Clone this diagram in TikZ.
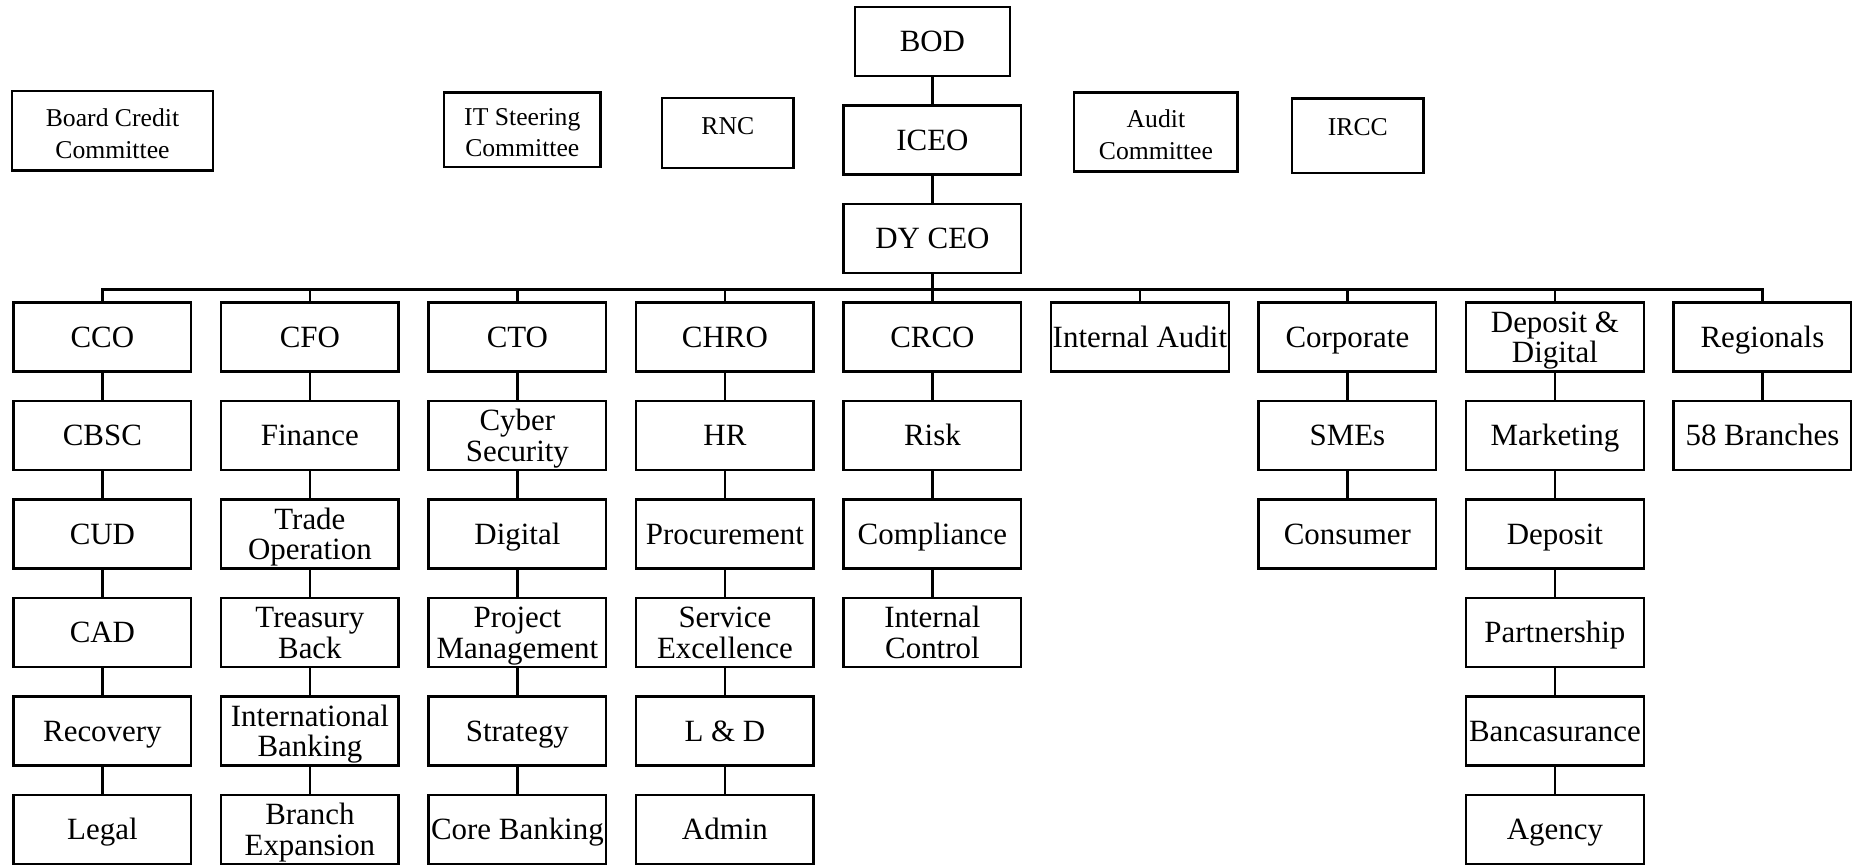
\documentclass[tikz,border=0pt]{standalone}
\usepackage{fontspec}
\setmainfont{Liberation Serif}
\usetikzlibrary{positioning}

\begin{document}
\begin{tikzpicture}[
    node distance=0.985cm and 2.075cm, on grid,
    unit/.style={rectangle, draw, line width=0.7pt, minimum width=1.776cm, minimum height=0.687cm, inner sep=0.5pt, align=center, font=\fontsize{8.8}{8.7}\selectfont, text height=7.7pt, text depth=1.95pt},
    duo/.style={text height=16.6pt, text depth=1.95pt},
    comm/.style={rectangle, draw, line width=0.7pt, inner sep=0.5pt, align=center, font=\fontsize{7.3}{9}\selectfont},
    pair/.style={text height=15.5pt, text depth=0pt},
    link/.style={line width=0.7pt}
]
    \useasboundingbox (0,0) rectangle (18.57,-8.66);

    % Top of the chart
    \node[unit, minimum width=1.55cm] (bod) at (9.324,-0.415) {BOD};
    \node[unit, below=of bod] (iceo) {ICEO};
    \node[unit, below=of iceo] (dyceo) {DY CEO};

    % Committees
    \node[comm, pair, minimum width=2.01cm, minimum height=0.793cm] (bcc) at (1.125,-1.309) {Board Credit\\Committee};
    \node[comm, pair, minimum width=1.563cm, minimum height=0.746cm] (itsc) at (5.223,-1.297) {IT Steering\\Committee};
    \node[comm, minimum width=1.315cm, minimum height=0.699cm, text depth=4pt] (rnc) at (7.278,-1.332) {RNC};
    \node[comm, pair, minimum width=1.634cm, minimum height=0.793cm] (audit) at (11.559,-1.320) {Audit\\Committee};
    \node[comm, minimum width=1.315cm, minimum height=0.746cm, text depth=5pt] (ircc) at (13.578,-1.356) {IRCC};

    % Column heads
    \node[unit, below=of dyceo] (crco) {CRCO};
    \node[unit, left=of crco] (chro) {CHRO};
    \node[unit, left=of chro] (cto) {CTO};
    \node[unit, left=of cto] (cfo) {CFO};
    \node[unit, left=of cfo] (cco) {CCO};
    \node[unit, right=of crco] (ia) {Internal Audit};
    \node[unit, right=of ia] (corp) {Corporate};
    \node[unit, duo, right=of corp] (depdig) {Deposit \&\\Digital};
    \node[unit, right=of depdig] (reg) {Regionals};

    % CCO
    \node[unit, below=of cco] (cbsc) {CBSC};
    \node[unit, below=of cbsc] (cud) {CUD};
    \node[unit, below=of cud] (cad) {CAD};
    \node[unit, below=of cad] (recovery) {Recovery};
    \node[unit, below=of recovery] (legal) {Legal};

    % CFO
    \node[unit, below=of cfo] (finance) {Finance};
    \node[unit, duo, below=of finance] (trade) {Trade\\Operation};
    \node[unit, duo, below=of trade] (treasury) {Treasury\\Back};
    \node[unit, duo, below=of treasury] (intl) {International\\Banking};
    \node[unit, duo, below=of intl] (branch) {Branch\\Expansion};

    % CTO
    \node[unit, duo, below=of cto] (cyber) {Cyber\\Security};
    \node[unit, below=of cyber] (digital) {Digital};
    \node[unit, duo, below=of digital] (pm) {Project\\Management};
    \node[unit, below=of pm] (strategy) {Strategy};
    \node[unit, below=of strategy] (core) {Core Banking};

    % CHRO
    \node[unit, below=of chro] (hr) {HR};
    \node[unit, below=of hr] (procure) {Procurement};
    \node[unit, duo, below=of procure] (service) {Service\\Excellence};
    \node[unit, below=of service] (ld) {L \& D};
    \node[unit, below=of ld] (admin) {Admin};

    % CRCO
    \node[unit, below=of crco] (risk) {Risk};
    \node[unit, below=of risk] (compliance) {Compliance};
    \node[unit, duo, below=of compliance] (ictrl) {Internal\\Control};

    % Corporate
    \node[unit, below=of corp] (sme) {SMEs};
    \node[unit, below=of sme] (consumer) {Consumer};

    % Deposit & Digital
    \node[unit, below=of depdig] (marketing) {Marketing};
    \node[unit, below=of marketing] (deposit) {Deposit};
    \node[unit, below=of deposit] (partner) {Partnership};
    \node[unit, below=of partner] (banca) {Bancasurance};
    \node[unit, below=of banca] (agency) {Agency};

    % Regionals
    \node[unit, below=of reg] (branches) {58 Branches};

    % Reporting lines
    \coordinate[below=0.155cm of dyceo.south] (bus);
    \draw[link] (bod) -- (iceo) -- (dyceo) -- (crco);
    \draw[link] (cco) |- (bus) -| (reg);
    \foreach \n in {cfo,cto,chro,ia,corp,depdig}
        \draw[link] (bus -| \n) -- (\n);

    \draw[link] (cco) -- (cbsc) -- (cud) -- (cad) -- (recovery) -- (legal);
    \draw[link] (cfo) -- (finance) -- (trade) -- (treasury) -- (intl) -- (branch);
    \draw[link] (cto) -- (cyber) -- (digital) -- (pm) -- (strategy) -- (core);
    \draw[link] (chro) -- (hr) -- (procure) -- (service) -- (ld) -- (admin);
    \draw[link] (crco) -- (risk) -- (compliance) -- (ictrl);
    \draw[link] (corp) -- (sme) -- (consumer);
    \draw[link] (depdig) -- (marketing) -- (deposit) -- (partner) -- (banca) -- (agency);
    \draw[link] (reg) -- (branches);
\end{tikzpicture}
\end{document}
